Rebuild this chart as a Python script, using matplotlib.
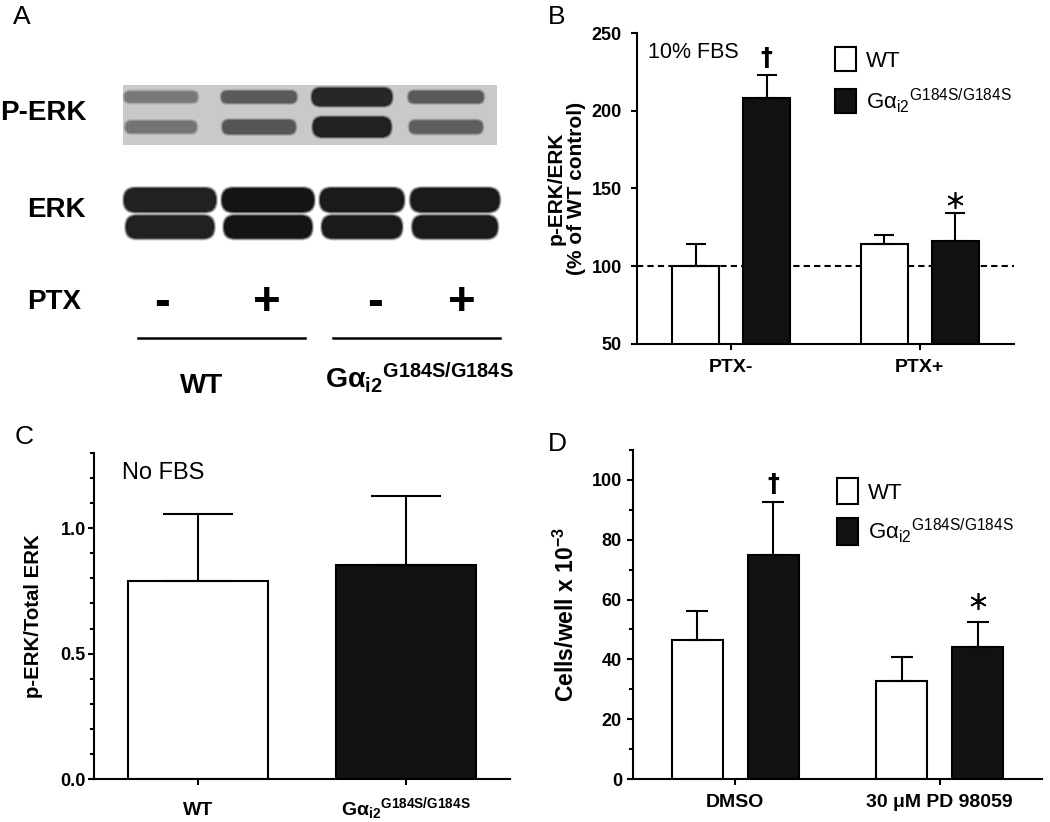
import numpy as np
import matplotlib
matplotlib.use("Agg")
import matplotlib.pyplot as plt
from matplotlib.patches import FancyBboxPatch, Patch, Rectangle

plt.rcParams['font.family'] = ['Liberation Sans', 'DejaVu Sans']
plt.rcParams['mathtext.fontset'] = 'custom'
plt.rcParams['mathtext.rm'] = 'Liberation Sans'
plt.rcParams['mathtext.it'] = 'Liberation Sans'
plt.rcParams['mathtext.bf'] = 'Liberation Sans:bold'
plt.rcParams['mathtext.default'] = 'regular'

# ---- data ----
# panel A: blot band intensities (0..1) per lane
lanes = ['WT -', 'WT +', 'Gai2 -', 'Gai2 +']
perk_top = [0.45, 0.62, 0.90, 0.62]
perk_bot = [0.48, 0.64, 0.93, 0.60]
erk_top = [0.93, 1.00, 0.97, 0.97]
erk_bot = [0.93, 1.00, 0.97, 0.97]
ptx_signs = ['-', '+', '-', '+']

# panel B: p-ERK/ERK (% of WT control), 10% FBS
b_groups = ['PTX-', 'PTX+']
b_wt = [100, 114.3]
b_wt_err = [14.5, 5.7]
b_mut = [208, 116]
b_mut_err = [15, 18.2]

# panel C: p-ERK/Total ERK, no FBS
c_groups = ['WT', 'mut']
c_vals = [0.789, 0.855]
c_err = [0.266, 0.274]

# panel D: cells/well x 10^-3
d_groups = ['DMSO', '30 μM PD 98059']
d_wt = [46.4, 32.8]
d_wt_err = [9.7, 8.1]
d_mut = [74.9, 44.2]
d_mut_err = [17.8, 8.2]

MUT = 'Gα$_{i2}$$^{G184S/G184S}$'
MUT_BF = 'Gα$_{\\mathbf{i2}}$$^{\\mathbf{G184S/G184S}}$'
BLACK = '#111111'
LW = 1.5
TICK_FS = 13
XTICK_FS = 14

W, H = 1050, 822
fig = plt.figure(figsize=(10.5, 8.22), dpi=100)

# ---- panel A: drawn in pixel coordinates ----
axA = fig.add_axes([0, 0, 1, 1], zorder=-1)
axA.set_xlim(0, W)
axA.set_ylim(H, 0)
axA.axis('off')


def band(ax, xc, yc, w, h, inten):
    g = 0.8 - 0.72 * inten
    for grow, a in [(4, 0.25), (2, 0.5), (0, 1.0)]:
        ww, hh = w + grow, h + grow
        ax.add_patch(FancyBboxPatch((xc - ww / 2, yc - hh / 2), ww, hh,
                                    boxstyle=f"round,pad=0,rounding_size={hh / 2 * 0.95}",
                                    fc=(g, g, g), ec='none', alpha=a))


# P-ERK membrane background
axA.add_patch(Rectangle((123, 85), 374, 60, fc='#c9c9c9', ec='none'))
perk_x = [161, 259, 352, 446]
perk_w = [73, 75, 80, 75]
perk_ht = [11, 12, 18, 12]
perk_hb = [12, 14, 20, 13]
for i in range(4):
    band(axA, perk_x[i], 97, perk_w[i], perk_ht[i], perk_top[i])
    band(axA, perk_x[i], 127, perk_w[i] - 2, perk_hb[i], perk_bot[i])

erk_x = [170, 268, 362, 455]
erk_w = [92, 92, 84, 89]
for i in range(4):
    band(axA, erk_x[i], 200, erk_w[i], 24, erk_top[i])
    band(axA, erk_x[i], 227, erk_w[i] - 4, 23, erk_bot[i])

axA.text(0, 113, 'P-ERK', fontsize=20, fontweight='bold', ha='left', va='center')
axA.text(27, 210, 'ERK', fontsize=20, fontweight='bold', ha='left', va='center')
axA.text(27, 302, 'PTX', fontsize=20, fontweight='bold', ha='left', va='center')
sign_x = [162, 267, 375, 462]
for sx, s in zip(sign_x, ptx_signs):
    axA.text(sx, 303, s, fontsize=34, fontweight='bold', ha='center', va='center')
axA.plot([138, 305], [338, 338], color='black', lw=1.8)
axA.plot([333, 500], [338, 338], color='black', lw=1.8)
axA.text(202, 393, 'WT', fontsize=20, fontweight='bold', ha='center', va='baseline')
axA.text(325, 387, MUT_BF, fontsize=20.5, fontweight='bold', ha='left', va='baseline')

for lab, (px, py) in zip('ABCD', [(13, 5), (548, 5), (15, 425), (548, 432)]):
    fig.text(px / W, 1 - py / H, lab, fontsize=19, ha='left', va='top')


def style(ax):
    for s in ['top', 'right']:
        ax.spines[s].set_visible(False)
    for s in ['left', 'bottom']:
        ax.spines[s].set_linewidth(LW)
    ax.tick_params(which='major', length=4, width=LW)
    ax.tick_params(which='minor', length=3, width=LW)


def legend(ax, anchor, fs, hh, sp):
    handles = [Patch(fc='white', ec='black', lw=LW), Patch(fc=BLACK, ec='black', lw=LW)]
    ax.legend(handles, ['WT', MUT], loc='upper left', bbox_to_anchor=anchor,
              frameon=False, fontsize=fs, handlelength=0.93, handleheight=hh,
              labelspacing=sp, handletextpad=0.45, borderpad=0, borderaxespad=0)


def err_kw():
    return dict(elinewidth=LW, capthick=LW, ecolor='black')


def dagger(ax, x, y):
    ax.text(x, y, '†', fontsize=17, fontweight='bold', family='DejaVu Sans',
            ha='center', va='center')


def star(ax, x, y):
    ax.plot([x], [y], marker=(6, 2, 0), ms=12, mew=1.2, color='black', ls='none')


# ---- panel B ----
axB = fig.add_axes([637 / W, 1 - 344 / H, 377 / W, 311 / H])
style(axB)
xb = np.arange(len(b_groups))
off, bw = 0.188, 0.25
axB.axhline(100, color='black', lw=LW, ls=(0, (3, 2)), zorder=0.5)
axB.bar(xb - off, b_wt, bw, color='white', edgecolor='black', lw=LW,
        yerr=[np.zeros(2), b_wt_err], capsize=7, error_kw=err_kw(), zorder=2)
axB.bar(xb + off, b_mut, bw, color=BLACK, edgecolor='black', lw=LW,
        yerr=[np.zeros(2), b_mut_err], capsize=7, error_kw=err_kw(), zorder=2)
axB.set_xlim(-0.5, 1.5)
axB.set_ylim(50, 250)
axB.set_yticks(np.arange(50, 251, 50))
axB.set_yticklabels([str(v) for v in range(50, 251, 50)], fontsize=TICK_FS, fontweight='bold')
axB.set_xticks(xb)
axB.set_xticklabels(b_groups, fontsize=XTICK_FS, fontweight='bold')
axB.tick_params(axis='y', pad=7)
axB.tick_params(axis='x', pad=7)
axB.set_ylabel('p-ERK/ERK\n(% of WT control)', fontsize=15, fontweight='bold', linespacing=1.1)
axB.yaxis.set_label_coords(-0.135, 0.5)
axB.text(0.029, 0.936, '10% FBS', transform=axB.transAxes, fontsize=15.5, va='center', ha='left')
dagger(axB, xb[0] + off, b_mut[0] + b_mut_err[0] + 11)
star(axB, xb[1] + off, b_mut[1] + b_mut_err[1] + 8.5)
legend(axB, (0.525, 0.955), 16, 1.3, 0.65)

# ---- panel C ----
axC = fig.add_axes([94 / W, 1 - 779 / H, 416 / W, 326 / H])
style(axC)
xc = np.arange(len(c_groups))
axC.bar(xc, c_vals, 0.67, color=['white', BLACK], edgecolor='black', lw=LW,
        yerr=[np.zeros(2), c_err], capsize=25, error_kw=err_kw())
axC.set_xlim(-0.5, 1.5)
axC.set_ylim(0, 1.3)
axC.set_yticks([0, 0.5, 1.0])
axC.set_yticklabels(['0.0', '0.5', '1.0'], fontsize=TICK_FS, fontweight='bold')
axC.set_yticks(np.arange(0, 1.31, 0.1), minor=True)
axC.set_xticks(xc)
axC.set_xticklabels(['WT', MUT_BF], fontsize=XTICK_FS, fontweight='bold')
for t in axC.get_xticklabels():
    t.set_va('baseline')
axC.tick_params(axis='x', pad=22)
axC.tick_params(axis='y', pad=2)
axC.set_ylabel('p-ERK/Total ERK', fontsize=14.7, fontweight='bold')
axC.yaxis.set_label_coords(-0.123, 0.5)
axC.text(0.067, 0.939, 'No FBS', transform=axC.transAxes, fontsize=17, va='center', ha='left')

# ---- panel D ----
axD = fig.add_axes([633 / W, 1 - 779 / H, 409 / W, 329 / H])
style(axD)
xd = np.arange(len(d_groups))
offd = 0.185
axD.bar(xd - offd, d_wt, bw, color='white', edgecolor='black', lw=LW,
        yerr=[np.zeros(2), d_wt_err], capsize=8, error_kw=err_kw())
axD.bar(xd + offd, d_mut, bw, color=BLACK, edgecolor='black', lw=LW,
        yerr=[np.zeros(2), d_mut_err], capsize=8, error_kw=err_kw())
axD.set_xlim(-0.5, 1.5)
axD.set_ylim(0, 110)
axD.set_yticks(np.arange(0, 101, 20))
axD.set_yticklabels([str(v) for v in range(0, 101, 20)], fontsize=TICK_FS, fontweight='bold')
axD.set_yticks(np.arange(0, 111, 10), minor=True)
axD.set_xticks(xd)
axD.set_xticklabels(d_groups, fontsize=XTICK_FS, fontweight='bold')
axD.tick_params(axis='y', pad=4)
axD.tick_params(axis='x', pad=7)
axD.set_ylabel('Cells/well x 10$^{\\mathbf{-3}}$', fontsize=16.5, fontweight='bold')
axD.yaxis.set_label_coords(-0.132, 0.5)
dagger(axD, xd[0] + offd, d_mut[0] + d_mut_err[0] + 6)
star(axD, xd[1] + offd, d_mut[1] + d_mut_err[1] + 7)
legend(axD, (0.499, 0.915), 16, 1.45, 0.55)

fig.savefig('out.png', dpi=100)
